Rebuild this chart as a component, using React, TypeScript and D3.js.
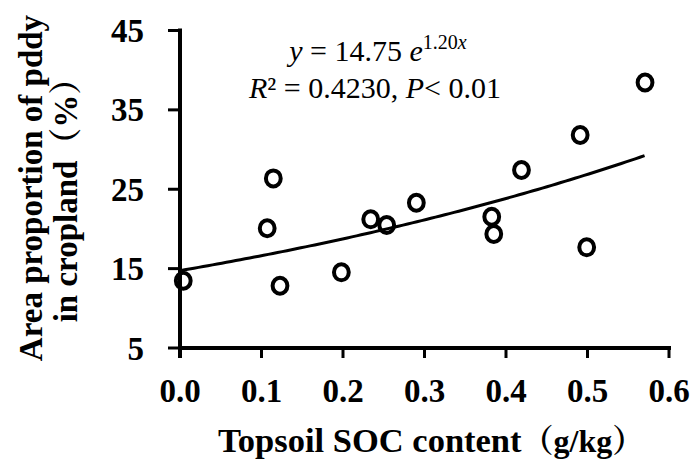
import React from "react";
import * as d3 from "d3";

const socX: number[] = [0.004, 0.107, 0.1145, 0.1227, 0.198, 0.234, 0.2536, 0.29, 0.3825, 0.385, 0.419, 0.491, 0.499, 0.5706];
const paddyY: number[] = [13.48, 20.08, 26.37, 12.85, 14.53, 21.21, 20.49, 23.3, 21.54, 19.36, 27.42, 31.83, 17.68, 38.44];
const xTicks: number[] = [0, 0.1, 0.2, 0.3, 0.4, 0.5, 0.6];
const yTicks: number[] = [5, 15, 25, 35, 45];
const fitA = 14.75;
const fitB = 1.2;
const fitRange: [number, number] = [0, 0.57];

const FONT = "'Liberation Serif', 'Times New Roman', 'Noto Serif CJK SC', 'Noto Sans CJK SC', serif";

export default function App() {
  const W = 692, H = 460;
  const x = d3.scaleLinear().domain([0, 0.6]).range([180, 669]);
  const y = d3.scaleLinear().domain([5, 45]).range([348, 30.5]);

  const fitPts: [number, number][] = d3.range(0, 101).map((i) => {
    const xv = fitRange[0] + ((fitRange[1] - fitRange[0]) * i) / 100;
    return [xv, fitA * Math.exp(fitB * xv)];
  });
  const line = d3.line<[number, number]>().x((d) => x(d[0])).y((d) => y(d[1]));

  return (
    <svg width={W} height={H} style={{ position: "absolute", left: 0, top: 0, background: "#fff" }} fontFamily={FONT}>
      <rect x={0} y={0} width={W} height={H} fill="#fff" />
      {/* fit curve */}
      <path d={line(fitPts) || ""} fill="none" stroke="#000" strokeWidth={3} />
      {/* points */}
      {socX.map((xv, i) => (
        <ellipse key={i} cx={x(xv)} cy={y(paddyY[i])} rx={7.4} ry={8} fill="none" stroke="#000" strokeWidth={4} />
      ))}
      {/* axes */}
      <line x1={x(0)} x2={x(0)} y1={y(45) - 2} y2={y(5) + 10} stroke="#000" strokeWidth={4} />
      <line x1={x(0) - 2} x2={x(0.6) + 2} y1={y(5)} y2={y(5)} stroke="#000" strokeWidth={4} />
      {yTicks.map((t) => (
        <g key={"y" + t}>
          <line x1={x(0) - 12} x2={x(0)} y1={y(t)} y2={y(t)} stroke="#000" strokeWidth={3} />
          <text x={144} y={y(t) + 11.5} textAnchor="end" fontSize={33} fontWeight="bold">{t}</text>
        </g>
      ))}
      {xTicks.map((t) => (
        <g key={"x" + t}>
          <line x1={x(t)} x2={x(t)} y1={y(5)} y2={y(5) + 10} stroke="#000" strokeWidth={3} />
          <text x={x(t)} y={402} textAnchor="middle" fontSize={33} fontWeight="bold">{t.toFixed(1)}</text>
        </g>
      ))}
      {/* axis titles */}
      <text x={218} y={452} textAnchor="start" fontWeight="bold">
        <tspan fontSize={34.5}>Topsoil SOC content</tspan>
        <tspan fontSize={32}>（g/kg）</tspan>
      </text>
      <g transform="translate(42,188) rotate(-90)">
        <text x={0} y={0} textAnchor="middle" fontSize={33} fontWeight="bold">Area proportion of pddy</text>
      </g>
      <g transform="translate(77,192) rotate(-90)">
        <text x={0} y={0} textAnchor="middle" fontSize={33} fontWeight="bold">in cropland（%）</text>
      </g>
      {/* equation */}
      <text x={378} y={61} textAnchor="middle" fontSize={30}>
        <tspan fontStyle="italic">y</tspan>
        <tspan> = 14.75 </tspan>
        <tspan fontStyle="italic">e</tspan>
        <tspan dy={-12} fontSize={20}>1.20</tspan>
        <tspan fontSize={20} fontStyle="italic">x</tspan>
      </text>
      <text x={375} y={98} textAnchor="middle" fontSize={30}>
        <tspan fontStyle="italic">R</tspan>
        <tspan>² = 0.4230, </tspan>
        <tspan fontStyle="italic">P</tspan>
        <tspan>&lt; 0.01</tspan>
      </text>
    </svg>
  );
}
